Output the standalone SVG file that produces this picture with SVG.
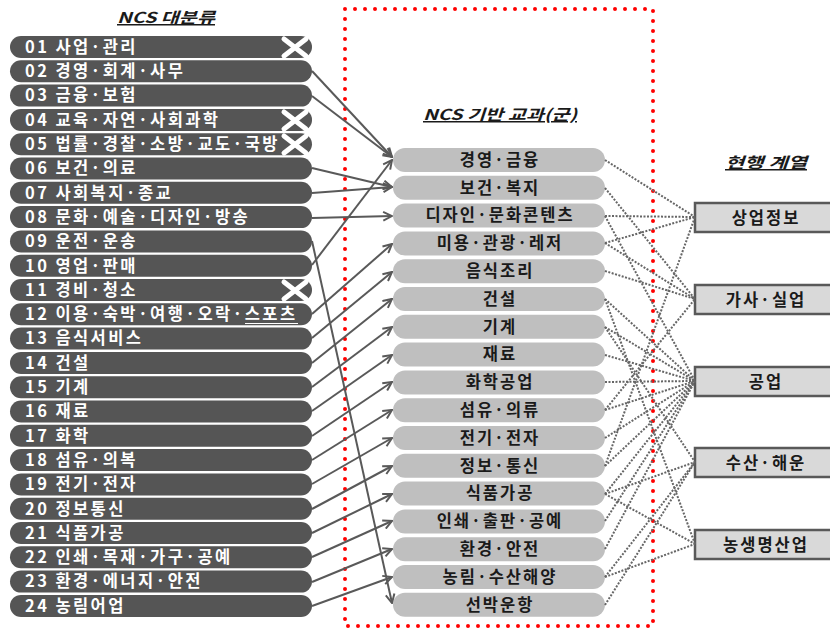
<svg xmlns="http://www.w3.org/2000/svg" width="830" height="628" viewBox="0 0 830 628">
<defs>
<marker id="ah" viewBox="0 0 10 10" refX="9" refY="5" markerWidth="11" markerHeight="11" markerUnits="userSpaceOnUse" orient="auto"><path d="M1,1 L9,5 L1,9" fill="none" stroke="#595959" stroke-width="1.8"/></marker>
<style>
.lp{fill:#555555}
.lt{font-family:"Noto Sans CJK KR","Noto Sans",sans-serif;font-weight:bold;font-size:16.5px;fill:#ffffff;letter-spacing:2.4px}
.mp{fill:#bfbfbf}
.mt{font-family:"Noto Sans CJK KR","Noto Sans",sans-serif;font-weight:bold;font-size:16.5px;fill:#1a1a1a;text-anchor:middle;letter-spacing:2px}
.rb{fill:#d9d9d9;stroke:#595959;stroke-width:2.5}
.rt{font-family:"Noto Sans CJK KR","Noto Sans",sans-serif;font-weight:bold;font-size:16.5px;fill:#1a1a1a;text-anchor:middle;letter-spacing:2px}
.ti{font-family:"Noto Sans CJK KR","Noto Sans",sans-serif;font-weight:bold;font-style:italic;font-size:15px;fill:#1a1a1a;text-anchor:middle;text-decoration:underline}
.x{stroke:#ffffff;stroke-width:5;stroke-linecap:round;fill:none}
.ar{stroke:#595959;stroke-width:2;fill:none;marker-end:url(#ah)}
.dl{stroke:#666666;stroke-width:2;fill:none;stroke-dasharray:2 1.5}
</style>
</defs>
<rect x="0" y="0" width="830" height="628" fill="#ffffff"/>
<rect id="ncs-box" x="345" y="9" width="308" height="617" fill="none" stroke="#ff0000" stroke-width="4" stroke-dasharray="0 10" stroke-linecap="round"/>
<text class="ti" x="166" y="23" textLength="98" lengthAdjust="spacingAndGlyphs">NCS 대분류</text>
<text class="ti" x="500" y="120" textLength="154" lengthAdjust="spacingAndGlyphs">NCS 기반 교과(군)</text>
<text class="ti" x="766" y="168" textLength="82" lengthAdjust="spacingAndGlyphs">현행 계열</text>
<g id="left">
<g id="l01"><rect class="lp" x="10" y="36" width="302" height="22" rx="11"/><text class="lt" x="25" y="52.8">01 사업·관리</text><path class="x" d="M284,39 L306,56 M306,39 L284,56"/></g>
<g id="l02"><rect class="lp" x="10" y="60.3" width="302" height="22" rx="11"/><text class="lt" x="25" y="77.1">02 경영·회계·사무</text></g>
<g id="l03"><rect class="lp" x="10" y="84.6" width="302" height="22" rx="11"/><text class="lt" x="25" y="101.4">03 금융·보험</text></g>
<g id="l04"><rect class="lp" x="10" y="108.9" width="302" height="22" rx="11"/><text class="lt" x="25" y="125.7">04 교육·자연·사회과학</text><path class="x" d="M284,112 L306,129 M306,112 L284,129"/></g>
<g id="l05"><rect class="lp" x="10" y="133.2" width="302" height="22" rx="11"/><text class="lt" x="25" y="150">05 법률·경찰·소방·교도·국방</text><path class="x" d="M284,136 L306,153 M306,136 L284,153"/></g>
<g id="l06"><rect class="lp" x="10" y="157.5" width="302" height="22" rx="11"/><text class="lt" x="25" y="174.3">06 보건·의료</text></g>
<g id="l07"><rect class="lp" x="10" y="181.8" width="302" height="22" rx="11"/><text class="lt" x="25" y="198.6">07 사회복지·종교</text></g>
<g id="l08"><rect class="lp" x="10" y="206.1" width="302" height="22" rx="11"/><text class="lt" x="25" y="222.9">08 문화·예술·디자인·방송</text></g>
<g id="l09"><rect class="lp" x="10" y="230.4" width="302" height="22" rx="11"/><text class="lt" x="25" y="247.2">09 운전·운송</text></g>
<g id="l10"><rect class="lp" x="10" y="254.7" width="302" height="22" rx="11"/><text class="lt" x="25" y="271.5">10 영업·판매</text></g>
<g id="l11"><rect class="lp" x="10" y="279" width="302" height="22" rx="11"/><text class="lt" x="25" y="295.8">11 경비·청소</text><path class="x" d="M284,282 L306,299 M306,282 L284,299"/></g>
<g id="l12"><rect class="lp" x="10" y="303.3" width="302" height="22" rx="11"/><text class="lt" x="25" y="320.1">12 이용·숙박·여행·오락·스포츠</text><line x1="245" y1="323.5" x2="298" y2="323.5" stroke="#ffffff" stroke-width="1"/></g>
<g id="l13"><rect class="lp" x="10" y="327.6" width="302" height="22" rx="11"/><text class="lt" x="25" y="344.4">13 음식서비스</text></g>
<g id="l14"><rect class="lp" x="10" y="351.9" width="302" height="22" rx="11"/><text class="lt" x="25" y="368.7">14 건설</text></g>
<g id="l15"><rect class="lp" x="10" y="376.2" width="302" height="22" rx="11"/><text class="lt" x="25" y="393">15 기계</text></g>
<g id="l16"><rect class="lp" x="10" y="400.5" width="302" height="22" rx="11"/><text class="lt" x="25" y="417.3">16 재료</text></g>
<g id="l17"><rect class="lp" x="10" y="424.8" width="302" height="22" rx="11"/><text class="lt" x="25" y="441.6">17 화학</text></g>
<g id="l18"><rect class="lp" x="10" y="449.1" width="302" height="22" rx="11"/><text class="lt" x="25" y="465.9">18 섬유·의복</text></g>
<g id="l19"><rect class="lp" x="10" y="473.4" width="302" height="22" rx="11"/><text class="lt" x="25" y="490.2">19 전기·전자</text></g>
<g id="l20"><rect class="lp" x="10" y="497.7" width="302" height="22" rx="11"/><text class="lt" x="25" y="514.5">20 정보통신</text></g>
<g id="l21"><rect class="lp" x="10" y="522" width="302" height="22" rx="11"/><text class="lt" x="25" y="538.8">21 식품가공</text></g>
<g id="l22"><rect class="lp" x="10" y="546.3" width="302" height="22" rx="11"/><text class="lt" x="25" y="563.1">22 인쇄·목재·가구·공예</text></g>
<g id="l23"><rect class="lp" x="10" y="570.6" width="302" height="22" rx="11"/><text class="lt" x="25" y="587.4">23 환경·에너지·안전</text></g>
<g id="l24"><rect class="lp" x="10" y="594.9" width="302" height="22" rx="11"/><text class="lt" x="25" y="611.7">24 농림어업</text></g>
</g>
<g id="middle">
<g id="m01"><rect class="mp" x="393" y="148" width="212" height="24" rx="12"/><text class="mt" x="500" y="165.8">경영·금융</text></g>
<g id="m02"><rect class="mp" x="393" y="175.8" width="212" height="24" rx="12"/><text class="mt" x="500" y="193.6">보건·복지</text></g>
<g id="m03"><rect class="mp" x="393" y="203.6" width="212" height="24" rx="12"/><text class="mt" x="500" y="221.4">디자인·문화콘텐츠</text></g>
<g id="m04"><rect class="mp" x="393" y="231.4" width="212" height="24" rx="12"/><text class="mt" x="500" y="249.2">미용·관광·레저</text></g>
<g id="m05"><rect class="mp" x="393" y="259.2" width="212" height="24" rx="12"/><text class="mt" x="500" y="277">음식조리</text></g>
<g id="m06"><rect class="mp" x="393" y="287" width="212" height="24" rx="12"/><text class="mt" x="500" y="304.8">건설</text></g>
<g id="m07"><rect class="mp" x="393" y="314.8" width="212" height="24" rx="12"/><text class="mt" x="500" y="332.6">기계</text></g>
<g id="m08"><rect class="mp" x="393" y="342.6" width="212" height="24" rx="12"/><text class="mt" x="500" y="360.4">재료</text></g>
<g id="m09"><rect class="mp" x="393" y="370.4" width="212" height="24" rx="12"/><text class="mt" x="500" y="388.2">화학공업</text></g>
<g id="m10"><rect class="mp" x="393" y="398.2" width="212" height="24" rx="12"/><text class="mt" x="500" y="416">섬유·의류</text></g>
<g id="m11"><rect class="mp" x="393" y="426" width="212" height="24" rx="12"/><text class="mt" x="500" y="443.8">전기·전자</text></g>
<g id="m12"><rect class="mp" x="393" y="453.8" width="212" height="24" rx="12"/><text class="mt" x="500" y="471.6">정보·통신</text></g>
<g id="m13"><rect class="mp" x="393" y="481.6" width="212" height="24" rx="12"/><text class="mt" x="500" y="499.4">식품가공</text></g>
<g id="m14"><rect class="mp" x="393" y="509.4" width="212" height="24" rx="12"/><text class="mt" x="500" y="527.2">인쇄·출판·공예</text></g>
<g id="m15"><rect class="mp" x="393" y="537.2" width="212" height="24" rx="12"/><text class="mt" x="500" y="555">환경·안전</text></g>
<g id="m16"><rect class="mp" x="393" y="565" width="212" height="24" rx="12"/><text class="mt" x="500" y="582.8">농림·수산해양</text></g>
<g id="m17"><rect class="mp" x="393" y="592.8" width="212" height="24" rx="12"/><text class="mt" x="500" y="610.6">선박운항</text></g>
</g>
<g id="right">
<g id="r1"><rect class="rb" x="695" y="203" width="140" height="29"/><text class="rt" x="766" y="223.5">상업정보</text></g>
<g id="r2"><rect class="rb" x="695" y="285" width="140" height="29"/><text class="rt" x="766" y="305.5">가사·실업</text></g>
<g id="r3"><rect class="rb" x="695" y="367" width="140" height="29"/><text class="rt" x="766" y="387.5">공업</text></g>
<g id="r4"><rect class="rb" x="695" y="448" width="140" height="29"/><text class="rt" x="766" y="468.5">수산·해운</text></g>
<g id="r5"><rect class="rb" x="695" y="530" width="140" height="29"/><text class="rt" x="766" y="550.5">농생명산업</text></g>
</g>
<g id="connectors">
<path class="ar" d="M312,71 L392,157"/>
<path class="ar" d="M312,96 L392,157"/>
<path class="ar" d="M312,265 L392,160"/>
<path class="ar" d="M312,168 L392,187"/>
<path class="ar" d="M312,193 L392,187"/>
<path class="ar" d="M312,218 L392,216"/>
<path class="ar" d="M312,241 L392,603"/>
<path class="ar" d="M312,314 L392,244"/>
<path class="ar" d="M312,338 L392,272"/>
<path class="ar" d="M312,363 L392,299"/>
<path class="ar" d="M312,387 L392,327"/>
<path class="ar" d="M312,411 L392,355"/>
<path class="ar" d="M312,436 L392,382"/>
<path class="ar" d="M312,460 L392,410"/>
<path class="ar" d="M312,484 L392,438"/>
<path class="ar" d="M312,509 L392,466"/>
<path class="ar" d="M312,533 L392,494"/>
<path class="ar" d="M312,557 L392,521"/>
<path class="ar" d="M312,582 L392,549"/>
<path class="ar" d="M312,606 L392,577"/>
<path class="dl" d="M605,160 L695,217"/>
<path class="dl" d="M605,188 L695,299"/>
<path class="dl" d="M605,216 L695,217"/>
<path class="dl" d="M605,216 L695,381"/>
<path class="dl" d="M605,243 L695,217"/>
<path class="dl" d="M605,243 L695,299"/>
<path class="dl" d="M605,271 L695,299"/>
<path class="dl" d="M605,299 L695,381"/>
<path class="dl" d="M605,299 L695,544"/>
<path class="dl" d="M605,327 L695,381"/>
<path class="dl" d="M605,327 L695,462"/>
<path class="dl" d="M605,355 L695,381"/>
<path class="dl" d="M605,382 L695,381"/>
<path class="dl" d="M605,410 L695,381"/>
<path class="dl" d="M605,410 L695,299"/>
<path class="dl" d="M605,438 L695,381"/>
<path class="dl" d="M605,466 L695,217"/>
<path class="dl" d="M605,466 L695,381"/>
<path class="dl" d="M605,494 L695,381"/>
<path class="dl" d="M605,494 L695,462"/>
<path class="dl" d="M605,494 L695,544"/>
<path class="dl" d="M605,521 L695,381"/>
<path class="dl" d="M605,549 L695,381"/>
<path class="dl" d="M605,577 L695,462"/>
<path class="dl" d="M605,577 L695,544"/>
<path class="dl" d="M605,605 L695,462"/>
</g>
</svg>
